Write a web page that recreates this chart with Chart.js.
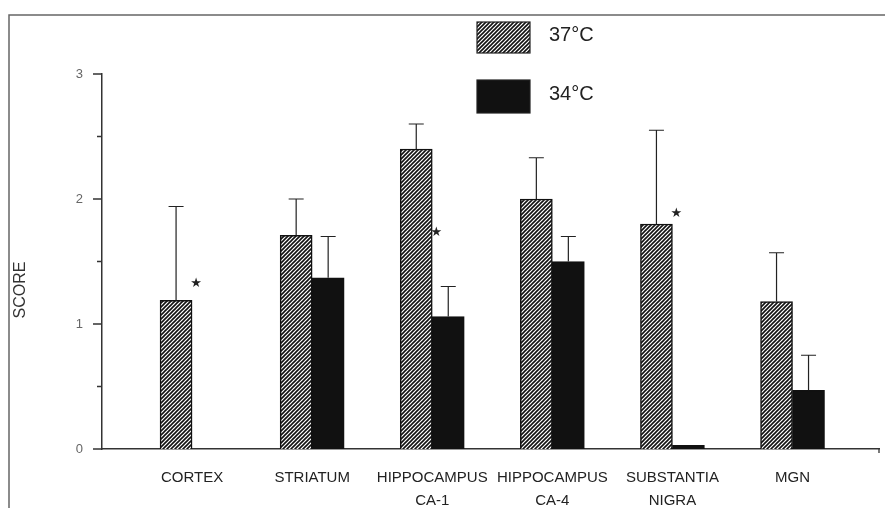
<!DOCTYPE html>
<html>
<head>
<meta charset="utf-8">
<script src="https://cdn.jsdelivr.net/npm/chart.js@4.4.0/dist/chart.umd.min.js"></script>
<style>
html,body{margin:0;padding:0;background:#fff;}
</style>
</head>
<body>
<canvas id="scoreChart" width="885" height="508"></canvas>
<script>
// data
const categories = ['CORTEX', 'STRIATUM', 'HIPPOCAMPUS CA-1', 'HIPPOCAMPUS CA-4', 'SUBSTANTIA NIGRA', 'MGN'];
const score37 = [1.19, 1.71, 2.40, 2.00, 1.80, 1.18];
const score34 = [null, 1.37, 1.06, 1.50, 0.03, 0.47];
const err37 = [0.75, 0.29, 0.20, 0.33, 0.75, 0.39];
const err34 = [null, 0.33, 0.24, 0.20, null, 0.28];
const stars = [1.32, null, 1.73, null, 1.88, null]; // significance marks
const yTicks = [0, 1, 2, 3];
const yMinor = [0.5, 1.5, 2.5];

const ctx = document.getElementById('scoreChart');

function hatch() {
  const c = document.createElement('canvas');
  c.width = 4; c.height = 4;
  const g = c.getContext('2d');
  g.fillStyle = '#fff';
  g.fillRect(0, 0, 4, 4);
  g.strokeStyle = '#111';
  g.lineWidth = 1.6;
  g.beginPath();
  g.moveTo(0, 4); g.lineTo(4, 0);
  g.moveTo(-1, 1); g.lineTo(1, -1);
  g.moveTo(3, 5); g.lineTo(5, 3);
  g.stroke();
  return ctx.getContext('2d').createPattern(c, 'repeat');
}
const hatched = hatch();

const extras = {
  id: 'extras',
  beforeDraw(chart) {
    const c = chart.ctx;
    c.save();
    c.fillStyle = '#fff';
    c.fillRect(0, 0, chart.width, chart.height);
    // frame of the scanned page
    c.strokeStyle = '#666';
    c.lineWidth = 1.5;
    c.beginPath();
    c.moveTo(9, chart.height);
    c.lineTo(9, 15);
    c.lineTo(chart.width, 15);
    c.stroke();
    c.restore();
  },
  afterDatasetsDraw(chart) {
    const c = chart.ctx, y = chart.scales.y, area = chart.chartArea;
    c.save();
    // error bars (upper only)
    [err37, err34].forEach((errs, d) => {
      const vals = d === 0 ? score37 : score34;
      const meta = chart.getDatasetMeta(d);
      errs.forEach((e, i) => {
        if (e == null || vals[i] == null) return;
        const bar = meta.data[i];
        const top = y.getPixelForValue(vals[i] + e);
        c.strokeStyle = '#222';
        c.lineWidth = 1.2;
        c.beginPath();
        c.moveTo(bar.x, bar.y);
        c.lineTo(bar.x, top);
        c.moveTo(bar.x - 7.5, top);
        c.lineTo(bar.x + 7.5, top);
        c.stroke();
      });
    });
    // stars
    const m0 = chart.getDatasetMeta(0);
    c.fillStyle = '#222';
    c.font = '13px "DejaVu Sans"';
    c.textAlign = 'center';
    c.textBaseline = 'middle';
    stars.forEach((s, i) => {
      if (s == null) return;
      const bar = m0.data[i];
      c.fillText('\u2605', bar.x + bar.width / 2 + 4, y.getPixelForValue(s));
    });
    // y tick marks, long at integers, short at halves
    c.strokeStyle = '#333';
    c.lineWidth = 1.3;
    c.beginPath();
    yTicks.forEach(v => {
      const py = y.getPixelForValue(v);
      c.moveTo(area.left - 9, py); c.lineTo(area.left, py);
    });
    yMinor.forEach(v => {
      const py = y.getPixelForValue(v);
      c.moveTo(area.left - 5, py); c.lineTo(area.left, py);
    });
    // little drop at end of x axis
    c.moveTo(area.right, area.bottom); c.lineTo(area.right, area.bottom + 4);
    c.stroke();
    // legend
    chart.data.datasets.forEach((ds, d) => {
      const by = d === 0 ? 22 : 80;
      const bh = d === 0 ? 31 : 33;
      c.fillStyle = ds.backgroundColor;
      c.fillRect(477, by, 53, bh);
      c.strokeStyle = '#222';
      c.lineWidth = 1.2;
      c.strokeRect(477, by, 53, bh);
      c.fillStyle = '#222';
      c.font = '20px "Liberation Sans"';
      c.textAlign = 'left';
      c.textBaseline = 'middle';
      c.fillText(ds.label, 549, by + bh / 2 - 2);
    });
    // axis title
    c.translate(21, 290);
    c.rotate(-Math.PI / 2);
    c.font = '16px "Liberation Sans"';
    c.textAlign = 'center';
    c.fillStyle = '#333';
    c.fillText('SCORE', 0, 0);
    c.restore();
  }
};

new Chart(ctx, {
  type: 'bar',
  data: {
    datasets: [{
      label: '37\u00b0C',
      data: categories.map((c, i) => ({x: i, y: score37[i]})),
      backgroundColor: hatched,
      borderColor: '#111',
      borderWidth: 1.5,
      barThickness: 32
    }, {
      label: '34\u00b0C',
      data: categories.map((c, i) => ({x: i, y: score34[i]})),
      backgroundColor: '#111',
      borderColor: '#111',
      borderWidth: 1.5,
      barThickness: 32
    }]
  },
  options: {
    responsive: false,
    animation: false,
    layout: {padding: {top: 74, right: 6, left: 0, bottom: 0}},
    plugins: {legend: {display: false}, tooltip: {enabled: false}},
    scales: {
      x: {
        type: 'linear',
        min: -0.75,
        max: 5.72,
        offset: false,
        afterBuildTicks: s => { s.ticks = categories.map((c, i) => ({value: i})); },
        afterFit: s => { s.height = 59; },
        grid: {display: false, drawTicks: false},
        border: {color: '#333', width: 1.5},
        ticks: {
          autoSkip: false,
          maxRotation: 0,
          padding: 18,
          color: '#222',
          font: {family: 'Liberation Sans', size: 15, lineHeight: 1.5},
          callback: v => categories[v] ? categories[v].split(' ') : ''
        }
      },
      y: {
        min: 0,
        max: 3,
        afterBuildTicks: s => { s.ticks = yTicks.map(v => ({value: v})); },
        afterFit: s => { s.width = 102; },
        grid: {display: false, drawTicks: false},
        border: {color: '#333', width: 1.5},
        ticks: {
          padding: 19,
          color: '#666',
          font: {family: 'Liberation Sans', size: 13}
        }
      }
    }
  },
  plugins: [extras]
});
</script>
</body>
</html>
